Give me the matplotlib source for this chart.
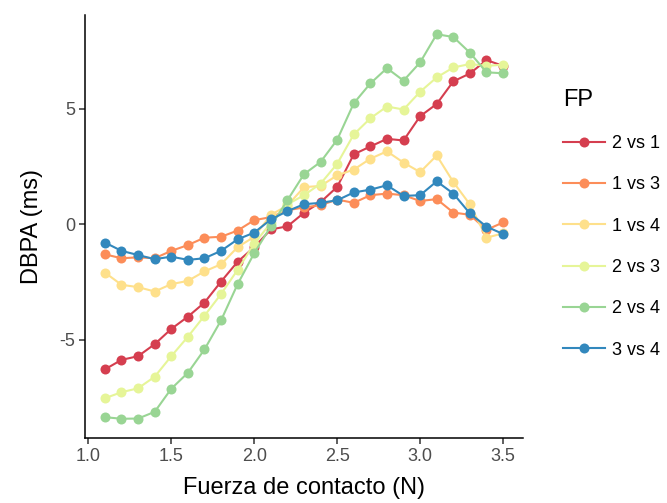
import matplotlib
matplotlib.use("Agg")
import matplotlib.pyplot as plt
from matplotlib.lines import Line2D

plt.rcParams['font.family'] = ['Liberation Sans', 'DejaVu Sans']

fuerza = [1.1, 1.2, 1.3, 1.4, 1.5, 1.6, 1.7, 1.8, 1.9, 2.0, 2.1, 2.2, 2.3,
          2.4, 2.5, 2.6, 2.7, 2.8, 2.9, 3.0, 3.1, 3.2, 3.3, 3.4, 3.5]

grupos = ["2 vs 1", "1 vs 3", "1 vs 4", "2 vs 3", "2 vs 4", "3 vs 4"]

dbpa_2v1 = [-6.29, -5.88, -5.72, -5.20, -4.54, -4.01, -3.40, -2.49, -1.63, -1.00,
            -0.23, -0.10, 0.49, 0.95, 1.61, 3.02, 3.36, 3.69, 3.62, 4.67,
            5.20, 6.18, 6.52, 7.10, 6.85]
dbpa_1v3 = [-1.31, -1.48, -1.44, -1.48, -1.16, -0.91, -0.59, -0.55, -0.28, 0.17,
            0.30, 0.60, 0.72, 0.82, 1.06, 0.92, 1.25, 1.32, 1.25, 1.00,
            1.08, 0.50, 0.40, -0.25, 0.07]
dbpa_1v4 = [-2.10, -2.63, -2.73, -2.92, -2.60, -2.46, -2.05, -1.74, -1.00, -0.55,
            0.40, 0.80, 1.60, 1.65, 2.11, 2.36, 2.83, 3.15, 2.66, 2.25,
            2.97, 1.82, 0.85, -0.59, -0.40]
dbpa_2v3 = [-7.54, -7.28, -7.11, -6.61, -5.72, -4.88, -3.97, -3.03, -1.98, -0.85,
            0.05, 0.85, 1.25, 1.75, 2.61, 3.88, 4.58, 5.09, 4.96, 5.73,
            6.35, 6.78, 6.93, 6.85, 6.90]
dbpa_2v4 = [-8.36, -8.43, -8.42, -8.13, -7.13, -6.44, -5.43, -4.17, -2.60, -1.26,
            -0.10, 1.03, 2.16, 2.69, 3.65, 5.23, 6.09, 6.75, 6.21, 7.00,
            8.22, 8.10, 7.42, 6.57, 6.53]
dbpa_3v4 = [-0.80, -1.16, -1.34, -1.52, -1.41, -1.55, -1.48, -1.16, -0.66, -0.37,
            0.20, 0.56, 0.86, 0.92, 1.03, 1.37, 1.49, 1.68, 1.22, 1.25,
            1.85, 1.32, 0.46, -0.11, -0.43]

series = [dbpa_2v1, dbpa_1v3, dbpa_1v4, dbpa_2v3, dbpa_2v4, dbpa_3v4]
colores = ["#D53E4F", "#FC8D59", "#FEE08B", "#E6F598", "#99D594", "#3288BD"]

fig = plt.figure(figsize=(6.67, 5.03), dpi=100)
ax = fig.add_axes([85 / 667, 1 - 438 / 503, (523 - 85) / 667, (438 - 15) / 503])

for vals, col, lab in zip(series, colores, grupos):
    ax.plot(fuerza, vals, color=col, lw=1.5, marker='o', ms=7.2,
            markeredgewidth=0, label=lab)

# axis limits with 5% expansion of the data range
xmin, xmax = min(fuerza), max(fuerza)
allv = [v for s in series for v in s]
ymin, ymax = min(allv), max(allv)
dx = (xmax - xmin) * 0.05
dy = (ymax - ymin) * 0.05
ax.set_xlim(xmin - dx, xmax + dx)
ax.set_ylim(ymin - dy, ymax + dy)

ax.set_xticks([1.0, 1.5, 2.0, 2.5, 3.0, 3.5])
ax.set_xticklabels(["1.0", "1.5", "2.0", "2.5", "3.0", "3.5"])
ax.set_yticks([-5, 0, 5])
ax.set_yticklabels(["-5", "0", "5"])

for s in ["top", "right"]:
    ax.spines[s].set_visible(False)
for s in ["left", "bottom"]:
    ax.spines[s].set_linewidth(1.1)
    ax.spines[s].set_color("black")

ax.tick_params(axis='both', length=4, width=1.1, color="#333333",
               labelsize=13, labelcolor="#4D4D4D", pad=3)

ax.set_xlabel("Fuerza de contacto (N)", fontsize=17, color="black", labelpad=9)
ax.set_ylabel("DBPA (ms)", fontsize=17, color="black", labelpad=12)

handles = [Line2D([0], [0], color=c, lw=1.5, marker='o', ms=7.2,
                  markeredgewidth=0) for c in colores]
leg = fig.legend(handles, grupos, title="FP", loc='upper left',
                 bbox_to_anchor=(556 / 667, 1 - 82 / 503),
                 frameon=False, fontsize=13, title_fontsize=17,
                 handlelength=2.3, handletextpad=0.4, labelspacing=1.35,
                 borderaxespad=0)
leg._legend_box.align = "left"
leg._legend_box.sep = 17

fig.savefig("out.png", dpi=100)
